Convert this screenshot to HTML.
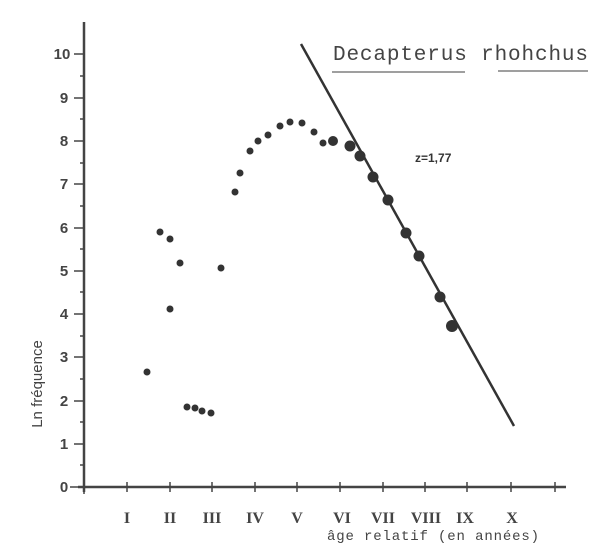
<!DOCTYPE html>
<html><head><meta charset="utf-8"><style>
html,body{margin:0;padding:0;background:#fff;width:600px;height:550px;overflow:hidden}
</style></head><body>
<svg width="600" height="550" viewBox="0 0 600 550">
<g stroke="#444" stroke-width="2.5" fill="none">
<line x1="84" y1="22" x2="84" y2="492"/>
<line x1="78" y1="487" x2="566" y2="487"/>
</g>
<g stroke="#444" stroke-width="1.5">
<line x1="70" y1="487" x2="84" y2="487"/><line x1="74" y1="444" x2="84" y2="444"/>
<line x1="74" y1="401" x2="84" y2="401"/><line x1="74" y1="357" x2="84" y2="357"/>
<line x1="74" y1="314" x2="84" y2="314"/><line x1="74" y1="271" x2="84" y2="271"/>
<line x1="74" y1="228" x2="84" y2="228"/><line x1="74" y1="184" x2="84" y2="184"/>
<line x1="74" y1="141" x2="84" y2="141"/><line x1="74" y1="98" x2="84" y2="98"/>
<line x1="74" y1="54" x2="84" y2="54"/>
<line x1="80" y1="465" x2="84" y2="465"/><line x1="80" y1="422" x2="84" y2="422"/>
<line x1="80" y1="379" x2="84" y2="379"/><line x1="80" y1="336" x2="84" y2="336"/>
<line x1="80" y1="292" x2="84" y2="292"/><line x1="80" y1="249" x2="84" y2="249"/>
<line x1="80" y1="206" x2="84" y2="206"/><line x1="80" y1="163" x2="84" y2="163"/>
<line x1="80" y1="119" x2="84" y2="119"/><line x1="80" y1="76" x2="84" y2="76"/>
<line x1="84" y1="487" x2="84" y2="494"/>
<line x1="127" y1="482" x2="127" y2="492"/><line x1="170" y1="482" x2="170" y2="492"/>
<line x1="212" y1="482" x2="212" y2="492"/><line x1="255" y1="482" x2="255" y2="492"/>
<line x1="297" y1="482" x2="297" y2="492"/><line x1="340" y1="482" x2="340" y2="492"/>
<line x1="383" y1="482" x2="383" y2="492"/><line x1="425" y1="482" x2="425" y2="492"/>
<line x1="467" y1="482" x2="467" y2="492"/><line x1="511" y1="482" x2="511" y2="492"/>
<line x1="555" y1="482" x2="555" y2="492"/>
</g>
<g font-size="15" text-anchor="middle" style="font-family:'Liberation Sans',sans-serif;font-weight:bold;fill:#444">
<text x="64" y="492">0</text><text x="64" y="449">1</text><text x="64" y="406">2</text>
<text x="64" y="362">3</text><text x="64" y="319">4</text><text x="64" y="276">5</text>
<text x="64" y="233">6</text><text x="64" y="189">7</text><text x="64" y="146">8</text>
<text x="64" y="103">9</text><text x="62" y="59">10</text>
</g>
<g font-size="16" text-anchor="middle" style="font-family:'Liberation Serif',serif;font-weight:bold;fill:#444">
<text x="127" y="523">I</text><text x="170" y="523">II</text><text x="212" y="523">III</text>
<text x="255" y="523">IV</text><text x="297" y="523">V</text><text x="342" y="523">VI</text>
<text x="383" y="523">VII</text><text x="426" y="523">VIII</text><text x="465" y="523">IX</text>
<text x="512" y="523">X</text>
</g>
<text x="433" y="540" font-size="14" text-anchor="middle" style="font-family:'Liberation Mono',monospace;fill:#444" textLength="212">âge relatif (en années)</text>
<text transform="translate(42,384) rotate(-90)" font-size="15" text-anchor="middle" style="font-family:'Liberation Sans',sans-serif;fill:#444">Ln fréquence</text>
<text x="333" y="60" font-size="21" style="font-family:'Liberation Mono',monospace;fill:#444" textLength="255">Decapterus rhohchus</text>
<line x1="332" y1="72" x2="465" y2="72" stroke="#666" stroke-width="1.2"/>
<line x1="498" y1="71" x2="588" y2="71" stroke="#666" stroke-width="1.2"/>
<text x="415" y="162" font-size="12" style="font-family:'Liberation Sans',sans-serif;font-weight:bold;fill:#333">z=1,77</text>
<line x1="301" y1="44" x2="514" y2="426" stroke="#333" stroke-width="2.5"/>
<g fill="#333">
<circle cx="147" cy="372" r="3.5"/><circle cx="160" cy="232" r="3.5"/><circle cx="170" cy="239" r="3.5"/>
<circle cx="170" cy="309" r="3.5"/><circle cx="180" cy="263" r="3.5"/><circle cx="187" cy="407" r="3.5"/>
<circle cx="195" cy="408" r="3.5"/><circle cx="202" cy="411" r="3.5"/><circle cx="211" cy="413" r="3.5"/>
<circle cx="221" cy="268" r="3.5"/><circle cx="235" cy="192" r="3.5"/><circle cx="240" cy="173" r="3.5"/>
<circle cx="250" cy="151" r="3.5"/><circle cx="258" cy="141" r="3.5"/><circle cx="268" cy="135" r="3.5"/>
<circle cx="280" cy="126" r="3.5"/><circle cx="290" cy="122" r="3.5"/><circle cx="302" cy="123" r="3.5"/>
<circle cx="314" cy="132" r="3.5"/><circle cx="323" cy="143" r="3.5"/><circle cx="333" cy="141" r="5"/>
<circle cx="350" cy="146" r="5.5"/><circle cx="360" cy="156" r="5.5"/><circle cx="373" cy="177" r="5.5"/>
<circle cx="388" cy="200" r="5.5"/><circle cx="406" cy="233" r="5.5"/><circle cx="419" cy="256" r="5.5"/>
<circle cx="440" cy="297" r="5.5"/><circle cx="452" cy="326" r="6"/>
</g>
</svg>
</body></html>
